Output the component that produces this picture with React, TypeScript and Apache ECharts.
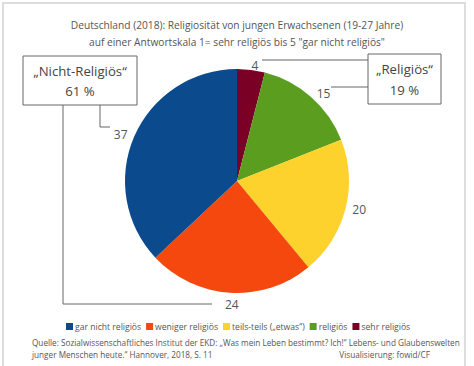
import React, { useEffect, useRef } from "react";
import * as echarts from "echarts";

const titleLines = [
  "Deutschland (2018): Religiosität von jungen Erwachsenen (19-27 Jahre)",
  'auf einer Antwortskala 1= sehr religiös bis 5 "gar nicht religiös"',
];
// clockwise from 12 o'clock
const categories = ["sehr religiös", "religiös", "teils-teils („etwas“)", "weniger religiös", "gar nicht religiös"];
const values = [4, 15, 20, 24, 37];
const colors = ["#7b0026", "#5b9d1f", "#fdd22c", "#f4480f", "#0b4a8c"];
const legendOrder = ["gar nicht religiös", "weniger religiös", "teils-teils („etwas“)", "religiös", "sehr religiös"];
const groupLabels = ["„Nicht-Religiös“", "61 %", "„Religiös“", "19 %"];
const sourceLines = [
  "Quelle: Sozialwissenschaftliches Institut der EKD: „Was mein Leben bestimmt? Ich!“ Lebens- und Glaubenswelten",
  "junger Menschen heute.“ Hannover, 2018, S. 11",
];
const credit = "Visualisierung: fowid/CF";

const FONT = "Open Sans";
const TXT = "#444";
const LINE = "#666";

export default function App() {
  const ref = useRef<HTMLDivElement>(null);
  useEffect(() => {
    document.body.style.margin = "0";
    const chart = echarts.init(ref.current!, undefined, { renderer: "svg" });
    const txt = (x: number, y: number, text: string, size: number, align: string, fill = TXT) => ({
      type: "text",
      x,
      y,
      style: { text, fill, font: `${size}px "${FONT}"`, textAlign: align, textVerticalAlign: "middle" },
    });
    chart.setOption({
      animation: false,
      backgroundColor: "#fff",
      textStyle: { fontFamily: FONT },
      legend: {
        data: legendOrder,
        top: 322,
        left: 66,
        icon: "rect",
        itemWidth: 7,
        itemHeight: 7,
        itemGap: 5,
        padding: 0,
        textStyle: { fontFamily: FONT, fontSize: 8.6, color: "#555", padding: [0, 0, 0, -3] },
        selectedMode: false,
      },
      series: [
        {
          type: "pie",
          center: [237, 181],
          radius: 112,
          startAngle: 90,
          clockwise: true,
          avoidLabelOverlap: false,
          label: {
            show: true,
            position: "outside",
            formatter: "{c}",
            fontFamily: FONT,
            fontSize: 12,
            color: "#555",
            distanceToLabelLine: 3,
          },
          labelLine: { show: false, length: 4, length2: 0 },
          labelLayout: (p: any) => (p.dataIndex === 3 ? { dx: 12, dy: 8 } : p.dataIndex === 0 ? { dx: -3 } : {}),
          itemStyle: { borderWidth: 0 },
          emphasis: { disabled: true },
          data: categories.map((name, i) => ({ name, value: values[i], itemStyle: { color: colors[i] } })),
        },
      ],
      graphic: [
        {
          type: "rect",
          shape: { x: 3, y: 3, width: 462, height: 372 },
          style: { fill: "none", stroke: "#ddd", lineWidth: 2 },
          silent: true,
        },
        txt(237, 25, titleLines[0], 10.2, "center", "#555"),
        txt(237, 42, titleLines[1], 10.2, "center", "#555"),
        // Nicht-Religiös box
        {
          type: "rect",
          shape: { x: 23, y: 56, width: 114, height: 49 },
          style: { fill: "#fff", stroke: LINE, lineWidth: 1 },
        },
        txt(80, 71, groupLabels[0], 13.2, "center"),
        txt(80, 91, groupLabels[1], 13.2, "center"),
        {
          type: "polyline",
          shape: { points: [[100, 105], [100, 127], [110, 127]] },
          style: { stroke: LINE, lineWidth: 1, fill: "none" },
        },
        {
          type: "polyline",
          shape: { points: [[63, 105], [63, 304], [212, 304]] },
          style: { stroke: LINE, lineWidth: 1, fill: "none" },
        },
        // Religiös box
        {
          type: "rect",
          shape: { x: 368, y: 54, width: 73, height: 50 },
          style: { fill: "#fff", stroke: LINE, lineWidth: 1 },
        },
        txt(404.5, 69, groupLabels[2], 13.2, "center"),
        txt(404.5, 90, groupLabels[3], 13.2, "center"),
        {
          type: "line",
          shape: { x1: 262, y1: 60, x2: 368, y2: 60 },
          style: { stroke: LINE, lineWidth: 1 },
        },
        {
          type: "line",
          shape: { x1: 331, y1: 87, x2: 368, y2: 87 },
          style: { stroke: LINE, lineWidth: 1 },
        },
        // Source
        txt(32, 342, sourceLines[0], 8.2, "left", "#555"),
        txt(32, 354, sourceLines[1], 8.2, "left", "#555"),
        txt(430, 354, credit, 8.2, "right", "#555"),
      ],
    });
    return () => chart.dispose();
  }, []);
  return <div ref={ref} style={{ width: 474, height: 366 }} />;
}
